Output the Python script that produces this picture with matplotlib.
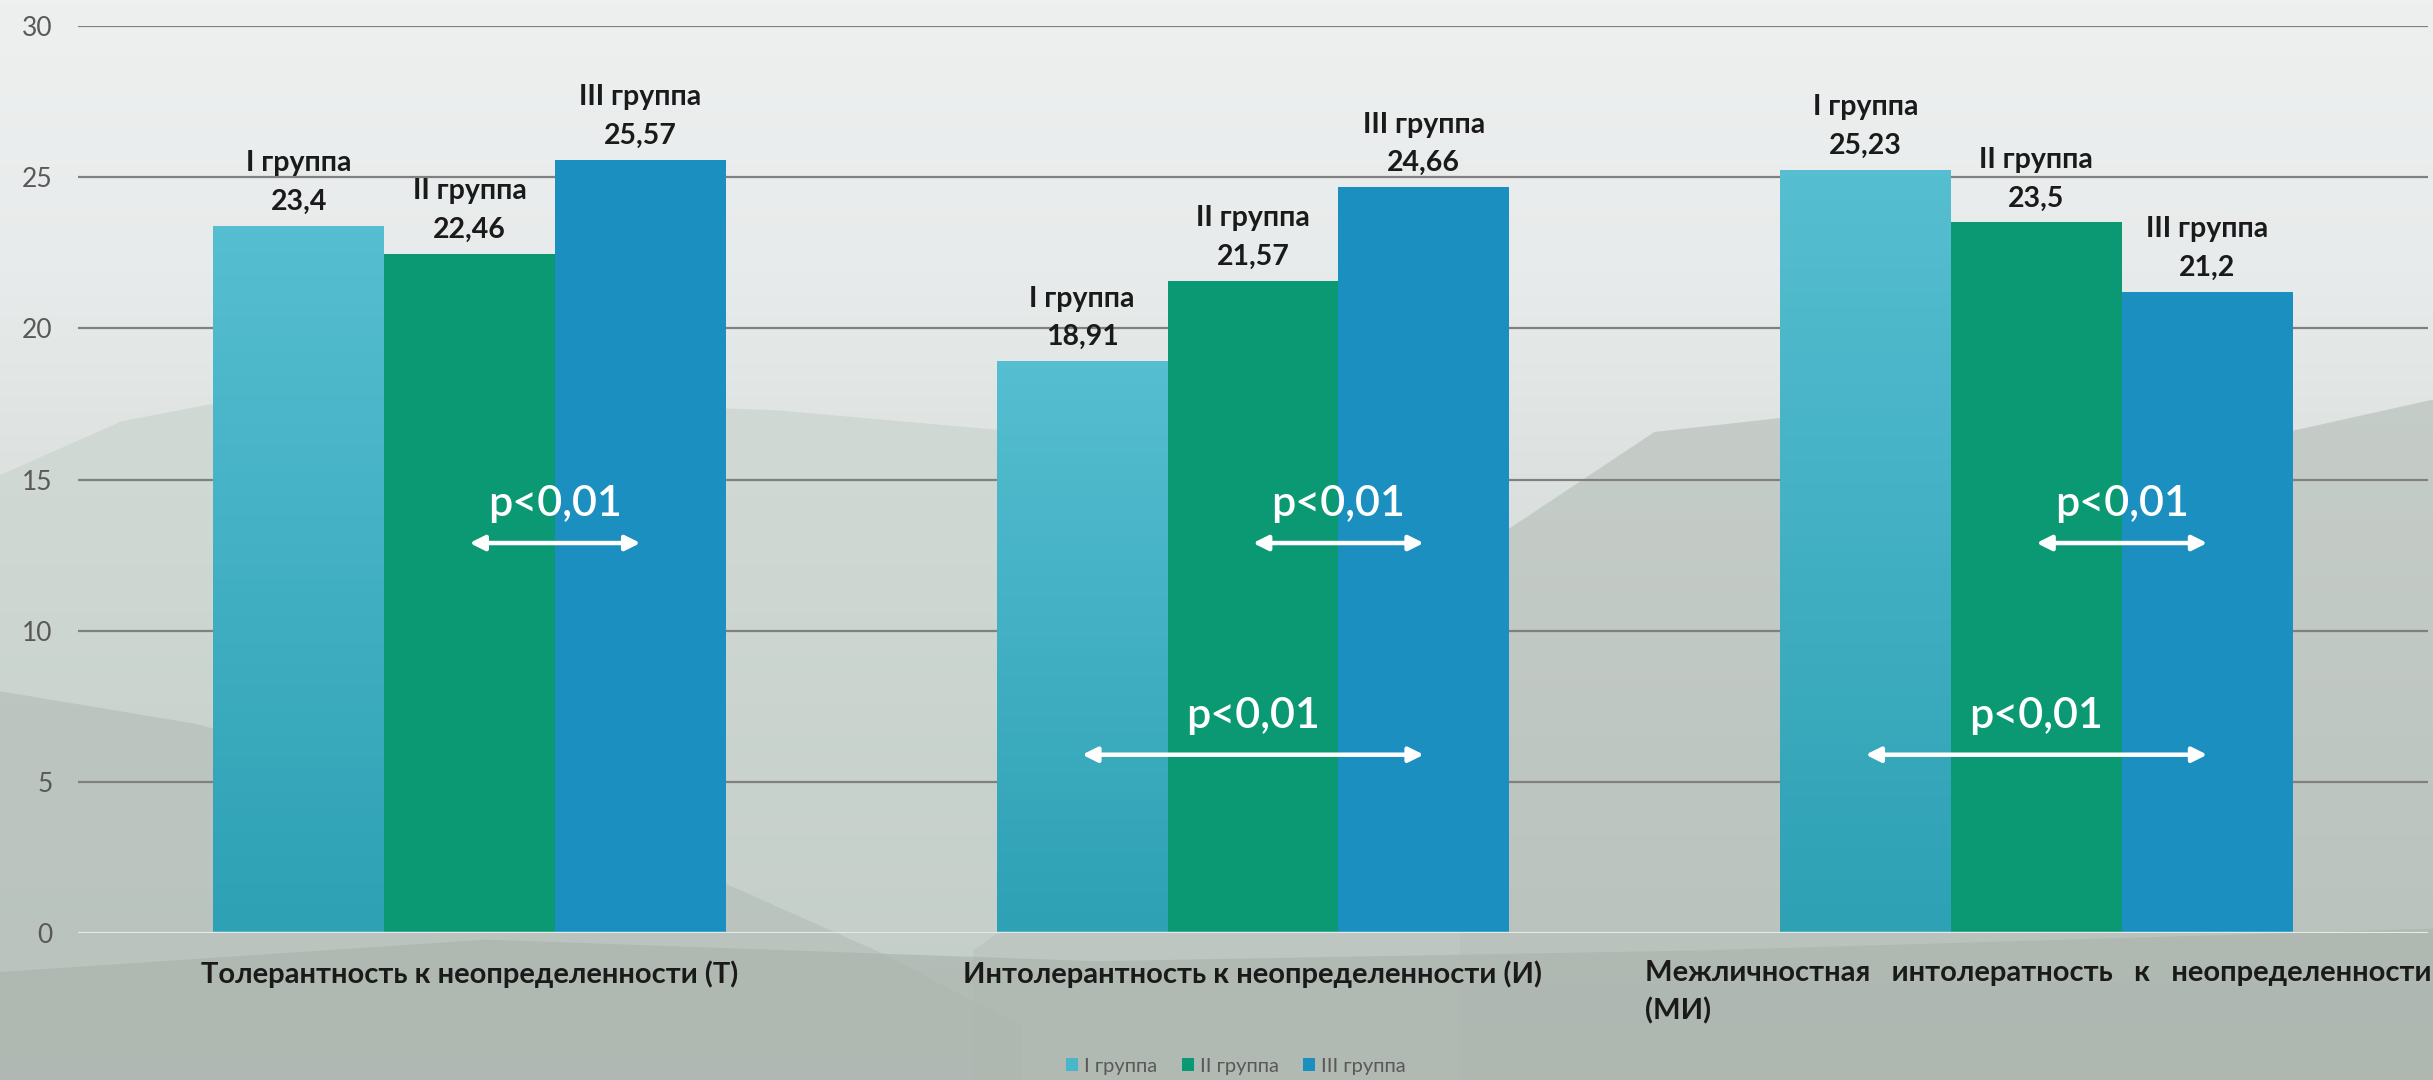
import numpy as np
import matplotlib.pyplot as plt
from matplotlib.colors import LinearSegmentedColormap
from matplotlib.patches import Polygon

categories = ["Толерантность к неопределенности (Т)",
              "Интолерантность к неопределенности (И)",
              "Межличностная   интолератность   к   неопределенности\n(МИ)"]
groups = ["I группа", "II группа", "III группа"]
group1 = [23.4, 18.91, 25.23]
group2 = [22.46, 21.57, 23.5]
group3 = [25.57, 24.66, 21.2]

# significance comparisons: category, from group, to group
comp_cat = [0, 1, 1, 2, 2]
comp_from = [1, 1, 0, 1, 0]
comp_to = [2, 2, 2, 2, 2]
comp_text = ["p<0,01"] * 5

colors = ["#4AB6CA", "#0B9974", "#1B8FBF"]
plt.rcParams['font.family'] = ['Lato', 'DejaVu Sans']

fig = plt.figure(figsize=(24.33, 10.8), dpi=100)

# background (soft mountain photo imitation)
bg = fig.add_axes([0, 0, 1, 1], zorder=-10)
bg.set_xlim(0, 1)
bg.set_ylim(0, 1)
bg.axis('off')
cmap = LinearSegmentedColormap.from_list('bg', ['#AEB6B0', '#C2CAC5', '#D9DFDC', '#E8EBEB', '#EEF0F0'])
grad = np.linspace(0, 1, 256).reshape(-1, 1)
bg.imshow(grad, extent=[0, 1, 0, 1], origin='lower', aspect='auto', cmap=cmap)
bg.add_patch(Polygon([(0, 0.56), (0.05, 0.61), (0.12, 0.64), (0.2, 0.63), (0.32, 0.62),
                      (0.42, 0.6), (0.5, 0.55), (0.56, 0.45), (0.6, 0.35), (0.6, 0), (0, 0)],
                     closed=True, fc='#CBD5CF', ec='none', alpha=0.75))
bg.add_patch(Polygon([(0.4, 0.12), (0.5, 0.28), (0.6, 0.48), (0.68, 0.6), (0.76, 0.62),
                      (0.86, 0.6), (0.94, 0.6), (1, 0.63), (1, 0), (0.4, 0)],
                     closed=True, fc='#BCC4BF', ec='none', alpha=0.75))
bg.add_patch(Polygon([(0, 0.36), (0.08, 0.33), (0.18, 0.27), (0.28, 0.2), (0.36, 0.12),
                      (0.42, 0.05), (0.42, 0), (0, 0)],
                     closed=True, fc='#B6BFB9', ec='none', alpha=0.7))
bg.add_patch(Polygon([(0, 0.1), (0.2, 0.13), (0.45, 0.11), (0.7, 0.12), (1, 0.14),
                      (1, 0), (0, 0)], closed=True, fc='#ACB4AE', ec='none', alpha=0.7))

ax = fig.add_axes([0.032, 0.136, 0.966, 0.840])
ax.patch.set_alpha(0)

x = np.arange(len(categories))
w = 0.218
series = [group1, group2, group3]
for i, vals in enumerate(series):
    bars = ax.bar(x + (i - 1) * w, vals, w, color=colors[i], zorder=3, label=groups[i])
    if i == 0:
        # slight vertical shading on the first series, as in the original
        shade = LinearSegmentedColormap.from_list('sh', ['#2EA1B4', '#56BED1'])
        for b in bars:
            im = ax.imshow(np.linspace(0, 1, 100).reshape(-1, 1), cmap=shade, origin='lower',
                           extent=[b.get_x(), b.get_x() + b.get_width(), 0, b.get_height()],
                           aspect='auto', zorder=3.1)
            im.set_clip_path(b)
    for xi, v in zip(x + (i - 1) * w, vals):
        ax.annotate(groups[i] + "\n" + f"{v:g}".replace('.', ','), (xi, v),
                    xytext=(0, 8), textcoords='offset points', ha='center', va='bottom',
                    fontsize=20.5, fontweight='bold', color='#1A1A1A', linespacing=1.6, zorder=5)

for c, a, b, t in zip(comp_cat, comp_from, comp_to, comp_text):
    xa = c + (a - 1) * w
    xb = c + (b - 1) * w
    yy = 12.9 if a == 1 else 5.9
    ax.annotate('', xy=(xb, yy), xytext=(xa, yy),
                arrowprops=dict(arrowstyle='<|-|>', color='white', lw=3.2,
                                mutation_scale=22, shrinkA=0, shrinkB=0), zorder=6)
    ax.text((xa + xb) / 2, yy + 0.65, t, ha='center', va='bottom', fontsize=31,
            fontweight='semibold', color='white', zorder=6)

ax.set_xlim(-0.5, 2.5)
ax.set_ylim(0, 30)
ax.set_yticks(range(0, 31, 5))
ax.yaxis.grid(True, color='#808080', lw=1.6, zorder=0)
ax.axhline(0, color='#E4EAEA', lw=2.5, zorder=4)
for s in ax.spines.values():
    s.set_visible(False)
ax.tick_params(axis='y', length=0, pad=18, labelsize=19, labelcolor='#595959')
ax.tick_params(axis='x', length=0)
ax.set_xticks([])

for i, lab in enumerate(categories):
    if i < 2:
        ax.text(i, -0.9, lab, ha='center', va='top', fontsize=21, fontweight='bold', color='#1A1A1A')
    else:
        ax.text(i - 0.5, -0.9, lab, ha='left', va='top', fontsize=21, fontweight='bold',
                color='#1A1A1A', linespacing=1.5)

fig.legend(loc='lower center', bbox_to_anchor=(0.508, -0.012), ncol=3, frameon=False,
           fontsize=14.5, labelcolor='#595959', handlelength=0.6, handleheight=0.6,
           handletextpad=0.3, columnspacing=1.2)

fig.savefig('out.png', dpi=100)
